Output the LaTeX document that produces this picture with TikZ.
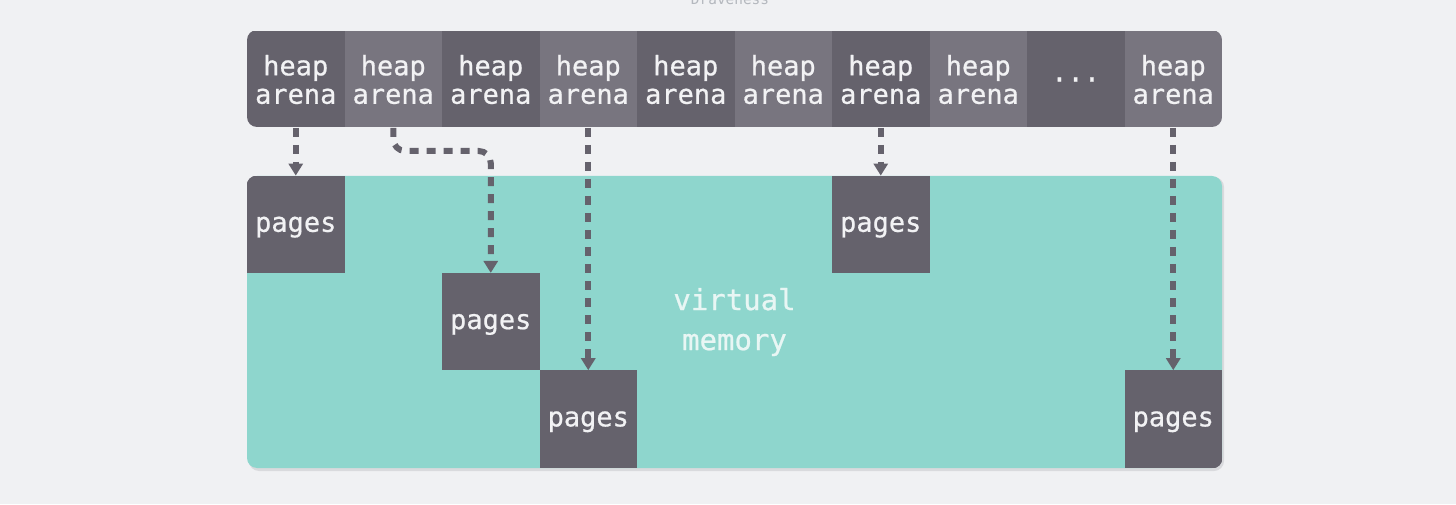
\documentclass[tikz,border=0pt]{standalone}
\usepackage{fontspec}
\setmonofont{DejaVu Sans Mono}
\newfontfamily\cellfont{DejaVu Sans Mono}[FakeBold=0.7]
\usetikzlibrary{positioning,arrows.meta}
\definecolor{bgcol}{HTML}{F0F1F3}
\definecolor{arenadark}{HTML}{65626C}
\definecolor{arenalight}{HTML}{78757F}
\definecolor{vmemcol}{HTML}{8ED6CD}
\definecolor{celltext}{HTML}{F2F2F4}
\definecolor{vmemtext}{HTML}{E8F6F4}
\definecolor{shadowcol}{HTML}{D9DADD}
\definecolor{dravcol}{HTML}{B4B8BE}

\begin{document}
\begin{tikzpicture}[x=0.5pt,y=0.5pt,
    cell/.style={minimum width=48.75pt,minimum height=48.5pt,inner sep=0pt,outer sep=0pt,
      text=celltext,align=center,font=\cellfont\fontsize{13.5}{14.2}\selectfont},
    pagebox/.style={cell,fill=arenadark,minimum height=48.65pt,text depth=0pt},
    link/.style={draw=arenadark,line width=3pt,dash pattern=on 4.5pt off 4pt,
      -{Triangle[width=7pt,length=6pt]}}]
  \useasboundingbox[fill=bgcol] (0,0) rectangle (1456,504);
  \node[text=dravcol,anchor=base,font=\ttfamily\fontsize{7.2}{8}\selectfont] (credit) at (730,499) {Draveness};

  % heap arenas
  \begin{scope}
    \clip[rounded corners=5pt] (247,377) rectangle (1222,474);
    \node[cell,fill=arenadark] (arena1) at (295.75,424.5) {heap\\arena};
    \node[cell,fill=arenalight,right=0pt of arena1] (arena2) {heap\\arena};
    \node[cell,fill=arenadark,right=0pt of arena2] (arena3) {heap\\arena};
    \node[cell,fill=arenalight,right=0pt of arena3] (arena4) {heap\\arena};
    \node[cell,fill=arenadark,right=0pt of arena4] (arena5) {heap\\arena};
    \node[cell,fill=arenalight,right=0pt of arena5] (arena6) {heap\\arena};
    \node[cell,fill=arenadark,right=0pt of arena6] (arena7) {heap\\arena};
    \node[cell,fill=arenalight,right=0pt of arena7] (arena8) {heap\\arena};
    \node[cell,fill=arenadark,right=0pt of arena8] (arena9) {...};
    \node[cell,fill=arenalight,right=0pt of arena9] (arena10) {heap\\arena};
  \end{scope}

  % virtual memory
  \fill[shadowcol,rounded corners=5pt] (249,33) rectangle (1224,327);
  \node[fill=vmemcol,rounded corners=5pt,minimum width=487.5pt,minimum height=146pt,
    inner sep=0pt,text=vmemtext,align=center,font=\cellfont\fontsize{14.5}{20}\selectfont]
    (vmem) at (734.5,182) {virtual\\memory};
  \begin{scope}
    \clip[rounded corners=5pt] (vmem.south west) rectangle (vmem.north east);
    \node[pagebox,anchor=north] (pages1) at (arena1.south |- vmem.north) {pages};
    \node[pagebox,anchor=north] (pages2) at (arena3.south |- pages1.south) {pages};
    \node[pagebox,anchor=north] (pages3) at (arena4.south |- pages2.south) {pages};
    \node[pagebox,anchor=north] (pages4) at (arena7.south |- vmem.north) {pages};
    \node[pagebox,anchor=north] (pages5) at (arena10.south |- pages2.south) {pages};
  \end{scope}

  % mappings
  \draw[link] (arena1.south) -- (pages1.north);
  \draw[link,rounded corners=6pt] (arena2.south) -- ++(0,-23) -| (pages2.north);
  \draw[link] (arena4.south) -- (pages3.north);
  \draw[link] (arena7.south) -- (pages4.north);
  \draw[link] (arena10.south) -- (pages5.north);
\end{tikzpicture}
\end{document}
